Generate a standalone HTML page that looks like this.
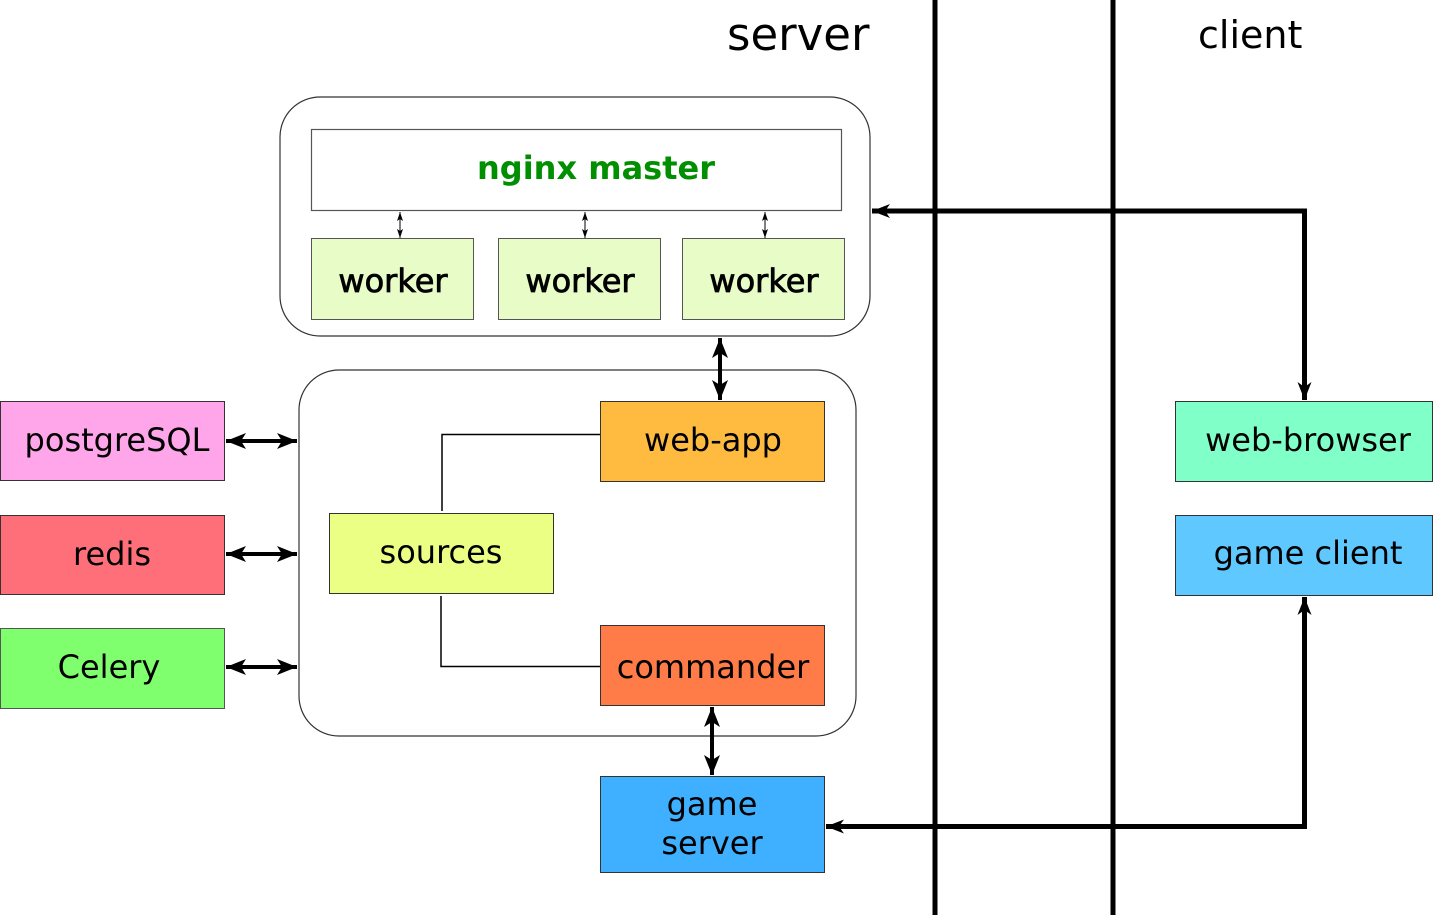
<!DOCTYPE html>
<html><head><meta charset="utf-8"><style>
html,body{margin:0;padding:0;background:#fff;}
svg{display:block;}
text{font-family:"DejaVu Sans","Liberation Sans",sans-serif;fill:#000;}
</style></head><body>
<svg width="1433" height="915" viewBox="0 0 1433 915" xmlns="http://www.w3.org/2000/svg">
<defs>
<marker id="big" markerUnits="userSpaceOnUse" markerWidth="20" markerHeight="16" refX="18" refY="8" orient="auto-start-reverse" viewBox="0 0 20 16">
<path d="M0,1 L18,8 L0,15 L5,8 z" fill="#000"/></marker>
<marker id="med" markerUnits="userSpaceOnUse" markerWidth="22" markerHeight="18" refX="20" refY="9" orient="auto-start-reverse" viewBox="0 0 22 18">
<path d="M0,1 L20,9 L0,17 L5,9 z" fill="#000"/></marker>
<marker id="sm" markerUnits="userSpaceOnUse" markerWidth="10" markerHeight="8" refX="9" refY="4" orient="auto-start-reverse" viewBox="0 0 10 8">
<path d="M0,1 L9,4 L0,7 L2,4 z" fill="#000"/></marker>
</defs>

<text x="727" y="50" font-size="45">server</text>
<text x="1198" y="48" font-size="38">client</text>
<line x1="935" y1="0" x2="935" y2="915" stroke="#000" stroke-width="5"/>
<line x1="1113" y1="0" x2="1113" y2="915" stroke="#000" stroke-width="5"/>

<rect x="280" y="97" width="590" height="239" rx="40" fill="#fff" stroke="#333" stroke-width="1.2"/>
<rect x="311.5" y="129.5" width="530" height="81" fill="#fff" stroke="#555" stroke-width="1.2"/>
<text x="596" y="179" font-size="32" font-weight="bold" text-anchor="middle" style="fill:#008f00">nginx master</text>
<rect x="311.5" y="238.5" width="162" height="81" fill="#e8fcc8" stroke="#555"/>
<rect x="498.5" y="238.5" width="162" height="81" fill="#e8fcc8" stroke="#555"/>
<rect x="682.5" y="238.5" width="162" height="81" fill="#e8fcc8" stroke="#555"/>
<g stroke="#000" stroke-width="0.8">
<text x="393" y="292" font-size="32" text-anchor="middle">worker</text>
<text x="580" y="292" font-size="32" text-anchor="middle">worker</text>
<text x="764" y="292" font-size="32" text-anchor="middle">worker</text>
</g>
<line x1="400" y1="212" x2="400" y2="238" stroke="#000" stroke-width="1" marker-start="url(#sm)" marker-end="url(#sm)"/>
<line x1="585" y1="212" x2="585" y2="238" stroke="#000" stroke-width="1" marker-start="url(#sm)" marker-end="url(#sm)"/>
<line x1="765" y1="212" x2="765" y2="238" stroke="#000" stroke-width="1" marker-start="url(#sm)" marker-end="url(#sm)"/>

<rect x="299" y="370" width="557" height="366" rx="40" fill="#fff" stroke="#333" stroke-width="1.2"/>
<line x1="720" y1="338" x2="720" y2="400" stroke="#000" stroke-width="4" marker-start="url(#med)" marker-end="url(#med)"/>

<polyline points="442,511 442,434.5 600,434.5" fill="none" stroke="#000" stroke-width="1.5"/>
<polyline points="441,596 441,666.5 600,666.5" fill="none" stroke="#000" stroke-width="1.5"/>

<rect x="600.5" y="401.5" width="224" height="80" fill="#ffbb3f" stroke="#333"/>
<text x="713" y="451" font-size="32" text-anchor="middle">web-app</text>
<rect x="329.5" y="513.5" width="224" height="80" fill="#ebff84" stroke="#333"/>
<text x="441" y="563" font-size="32" text-anchor="middle">sources</text>
<rect x="600.5" y="625.5" width="224" height="80" fill="#ff7c48" stroke="#333"/>
<text x="713" y="678" font-size="32" text-anchor="middle">commander</text>
<rect x="600.5" y="776.5" width="224" height="96" fill="#3eb0ff" stroke="#333"/>
<text x="712" y="815" font-size="32" text-anchor="middle">game</text>
<text x="712" y="854" font-size="32" text-anchor="middle">server</text>
<line x1="712" y1="707" x2="712" y2="775" stroke="#000" stroke-width="4" marker-start="url(#med)" marker-end="url(#med)"/>

<rect x="0.5" y="401.5" width="224" height="79" fill="#ffa6ea" stroke="#333"/>
<text x="117" y="451" font-size="32" text-anchor="middle">postgreSQL</text>
<rect x="0.5" y="515.5" width="224" height="79" fill="#ff6f7a" stroke="#333"/>
<text x="112" y="565" font-size="32" text-anchor="middle">redis</text>
<rect x="0.5" y="628.5" width="224" height="80" fill="#80ff6e" stroke="#555"/>
<text x="109" y="678" font-size="32" text-anchor="middle">Celery</text>
<line x1="226" y1="441" x2="297" y2="441" stroke="#000" stroke-width="4" marker-start="url(#med)" marker-end="url(#med)"/>
<line x1="226" y1="554" x2="297" y2="554" stroke="#000" stroke-width="4" marker-start="url(#med)" marker-end="url(#med)"/>
<line x1="226" y1="667" x2="297" y2="667" stroke="#000" stroke-width="4" marker-start="url(#med)" marker-end="url(#med)"/>

<rect x="1175.5" y="401.5" width="257" height="80" fill="#80ffc8" stroke="#333"/>
<text x="1308" y="451" font-size="32" text-anchor="middle">web-browser</text>
<rect x="1175.5" y="515.5" width="257" height="80" fill="#5ec8ff" stroke="#333"/>
<text x="1308" y="564" font-size="32" text-anchor="middle">game client</text>

<polyline points="872,211 1304.5,211 1304.5,400" fill="none" stroke="#000" stroke-width="5" marker-start="url(#big)" marker-end="url(#big)"/>
<polyline points="826,826.5 1304.5,826.5 1304.5,597" fill="none" stroke="#000" stroke-width="5" marker-start="url(#big)" marker-end="url(#big)"/>
</svg>
</body></html>
